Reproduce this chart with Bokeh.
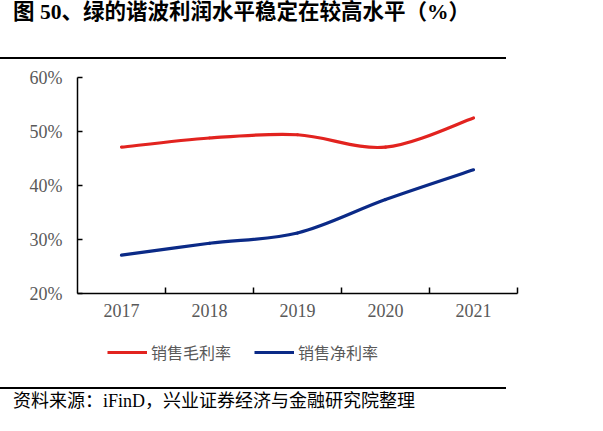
from bokeh.plotting import figure
from bokeh.layouts import column
from bokeh.models import (Range1d, FixedTicker, PrintfTickFormatter, Legend, LegendItem, Div)
from bokeh.embed import file_html
from bokeh.resources import INLINE

# ---- data ----
years = ["2017", "2018", "2019", "2020", "2021"]
gross_margin = [47.1, 48.8, 49.4, 47.1, 52.5]   # 销售毛利率 (%)
net_margin = [27.1, 29.3, 31.2, 37.4, 42.9]     # 销售净利率 (%)
y_ticks = [20, 30, 40, 50, 60]

title_text = "图 50、绿的谐波利润水平稳定在较高水平（%）"
source_text = "资料来源：iFinD，兴业证券经济与金融研究院整理"
legend_names = ["销售毛利率", "销售净利率"]

RED = "#E2231F"
BLUE = "#0B2A87"
GRAY = "#595959"
SERIF = "'Liberation Serif', 'Noto Sans CJK SC'"
CJK = "'Noto Sans CJK SC'"

W = 587
# chart figure
H = 271
L, R, T, B = 77, 70, 18, 37

p = figure(width=W, height=H, output_backend="svg", toolbar_location=None,
           x_range=Range1d(0, len(years)), y_range=Range1d(20, 60),
           min_border_left=L, min_border_right=R, min_border_top=T, min_border_bottom=B)
p.outline_line_color = None
p.grid.visible = False
p.background_fill_color = "white"
p.border_fill_color = "white"

centers = [i + 0.5 for i in range(len(years))]


def smooth_segments(xs, ys):
    n = len(xs)
    P = list(zip(xs, ys))
    out = dict(x0=[], y0=[], x1=[], y1=[], cx0=[], cy0=[], cx1=[], cy1=[])
    for i in range(n - 1):
        pm = P[max(i - 1, 0)]
        p0 = P[i]
        p1 = P[i + 1]
        p2 = P[min(i + 2, n - 1)]
        out["x0"].append(p0[0]); out["y0"].append(p0[1])
        out["x1"].append(p1[0]); out["y1"].append(p1[1])
        out["cx0"].append(p0[0] + (p1[0] - pm[0]) / 6)
        out["cy0"].append(p0[1] + (p1[1] - pm[1]) / 6)
        out["cx1"].append(p1[0] - (p2[0] - p0[0]) / 6)
        out["cy1"].append(p1[1] - (p2[1] - p0[1]) / 6)
    return out


for series, col in [(gross_margin, RED), (net_margin, BLUE)]:
    seg = smooth_segments(centers, series)
    p.bezier(source=seg, x0="x0", y0="y0", x1="x1", y1="y1",
             cx0="cx0", cy0="cy0", cx1="cx1", cy1="cy1",
             line_color=col, line_width=3.2, line_cap="round")

# axes
xa = p.xaxis[0]
xa.ticker = FixedTicker(ticks=centers, minor_ticks=list(range(1, len(years) + 1)))
xa.major_label_overrides = {c: y for c, y in zip(centers, years)}
xa.major_tick_in = 0
xa.major_tick_out = 0
xa.minor_tick_in = 6
xa.minor_tick_out = 0
xa.minor_tick_line_color = "black"
xa.minor_tick_line_width = 1.5
xa.axis_line_color = "black"
xa.axis_line_width = 1.5
xa.major_label_text_font = SERIF
xa.major_label_text_font_size = "18px"
xa.major_label_text_color = GRAY
xa.major_label_standoff = 10

ya = p.yaxis[0]
ya.ticker = FixedTicker(ticks=y_ticks)
ya.formatter = PrintfTickFormatter(format="%d%%")
ya.major_tick_in = 5
ya.major_tick_out = 0
ya.major_tick_line_color = "black"
ya.major_tick_line_width = 1.5
ya.minor_tick_line_color = None
ya.axis_line_color = "black"
ya.axis_line_width = 1.5
ya.major_label_text_font = SERIF
ya.major_label_text_font_size = "18px"
ya.major_label_text_color = GRAY
ya.major_label_standoff = 15

# legend figure (frame covers the whole canvas so the legend is not clipped);
# the series lines are drawn but kept out of its view range
LH = 57
pl = figure(width=W, height=LH, output_backend="svg", toolbar_location=None,
            x_range=Range1d(0, len(years)), y_range=Range1d(-2, -1),
            x_axis_location=None, y_axis_location=None,
            min_border_left=0, min_border_right=0, min_border_top=0, min_border_bottom=0)
pl.outline_line_color = None
pl.grid.visible = False
pl.background_fill_color = "white"
pl.border_fill_color = "white"
r1 = pl.line(x=centers, y=gross_margin, line_color=RED, line_width=3.2)
r2 = pl.line(x=centers, y=net_margin, line_color=BLUE, line_width=3.2)
legend = Legend(items=[LegendItem(label=legend_names[0], renderers=[r1]),
                       LegendItem(label=legend_names[1], renderers=[r2])],
                orientation="horizontal", location=(30, 23),
                glyph_width=40, glyph_height=16, label_standoff=4, spacing=23,
                padding=0, margin=0, border_line_color=None, background_fill_alpha=0,
                label_text_font=CJK, label_text_font_size="16px",
                label_text_color=GRAY, label_height=16)
pl.add_layout(legend, "center")

title_div = Div(text=title_text, width=493, height=57, margin=0,
                styles={"font-family": SERIF, "font-size": "21.5px", "font-weight": "bold",
                        "color": "black", "line-height": "24px", "padding-left": "13px",
                        "border-bottom": "2px solid black", "box-sizing": "content-box",
                        "white-space": "nowrap"})
source_div = Div(text=source_text, width=493, height=22, margin=0,
                 styles={"font-family": SERIF, "font-size": "18px",
                         "color": "black", "line-height": "24px", "padding-left": "13px",
                         "border-top": "2px solid black", "box-sizing": "content-box",
                         "white-space": "nowrap"})

layout = column(title_div, p, pl, source_div, spacing=0, margin=0)
open("out.html", "w").write(file_html(layout, INLINE))
